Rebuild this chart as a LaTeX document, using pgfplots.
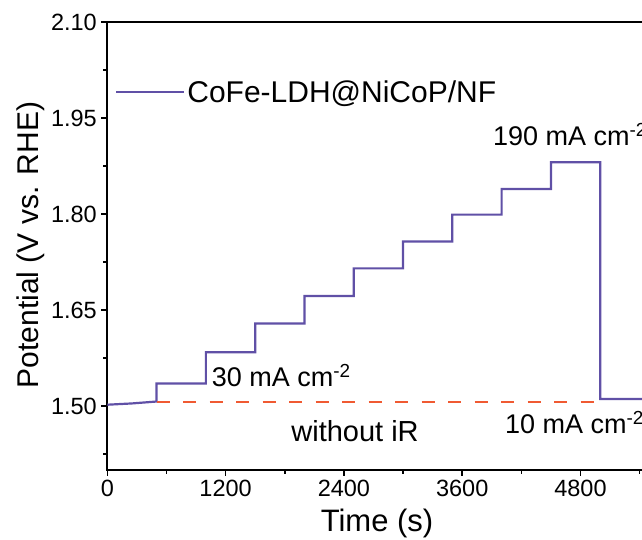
\documentclass[border=0pt]{standalone}
\usepackage{fontspec}
\setmainfont{Liberation Sans}
\usepackage{pgfplots}
\pgfplotsset{compat=1.18}
\definecolor{stepline}{RGB}{96,80,166}
\definecolor{noir}{RGB}{240,90,50}

\newcommand{\fs}[1]{\fontsize{#1}{#1}\selectfont}

\begin{document}
\begin{tikzpicture}
\begin{axis}[
  scale only axis, width=591.5pt, height=448pt,
  xmin=0, xmax=6000, ymin=1.40, ymax=2.10,
  xtick={0,1200,2400,3600,4800,6000},
  minor xtick={600,1800,3000,4200,5400},
  ytick={1.50,1.65,1.80,1.95,2.10},
  minor ytick={1.425,1.575,1.725,1.875,2.025},
  tick align=outside, xtick pos=bottom, ytick pos=left,
  major tick length=6pt, minor tick length=4pt,
  axis line style={line width=2.2pt},
  every tick/.style={black, line width=1.5pt},
  scaled x ticks=false,
  tick label style={font=\fs{23.5}},
  /pgf/number format/assume math mode=true,
  x tick label style={/pgf/number format/1000 sep={}},
  y tick label style={/pgf/number format/.cd, fixed, fixed zerofill, precision=2},
  xticklabel shift=1pt, yticklabel shift=1pt,
  legend style={draw=none, fill=none, at={(0.013,0.844)}, anchor=west,
    font=\fs{30}, inner sep=0pt},
  legend image code/.code={\draw[#1] (0pt,0pt) -- (68pt,0pt);},
  /tikz/every even column/.append style={column sep=15pt},
  clip=false,
]
\addplot[stepline, line width=2.2pt] coordinates {
  (0,1.502) (250,1.504) (500,1.507)
  (500,1.535) (1000,1.535)
  (1000,1.584) (1500,1.584)
  (1500,1.629) (2000,1.629)
  (2000,1.672) (2500,1.672)
  (2500,1.715) (3000,1.715)
  (3000,1.757) (3500,1.757)
  (3500,1.799) (4000,1.799)
  (4000,1.839) (4500,1.839)
  (4500,1.881) (5000,1.881)
  (5000,1.511) (6000,1.511)
};
\addlegendentry{CoFe-LDH@NiCoP/NF}
\addplot[noir, line width=1.8pt, dash pattern=on 13pt off 13.5pt, forget plot] coordinates {
  (500,1.506) (5000,1.506)
};
\node[anchor=west, font=\fs{27}, inner sep=0pt] at (axis cs:1059,1.547) {30 mA cm\textsuperscript{-2}};
\node[anchor=west, font=\fs{27}, inner sep=0pt] at (axis cs:3912,1.924) {190 mA cm\textsuperscript{-2}};
\node[anchor=west, font=\fs{27}, inner sep=0pt] at (axis cs:4033,1.4735) {10 mA cm\textsuperscript{-2}};
\node[font=\fs{29}, inner sep=0pt] at (axis cs:2513,1.461) {without iR};
\end{axis}
\node[font=\fs{31}, inner sep=0pt] at (269.7pt,-53pt) {Time (s)};
\node[rotate=90, font=\fs{30}, inner sep=0pt] at (-77pt,225pt) {Potential (V vs. RHE)};
\pgfresetboundingbox
\path[use as bounding box] (-107.3pt,-70pt) rectangle (534.7pt,470pt);
\end{tikzpicture}
\end{document}
